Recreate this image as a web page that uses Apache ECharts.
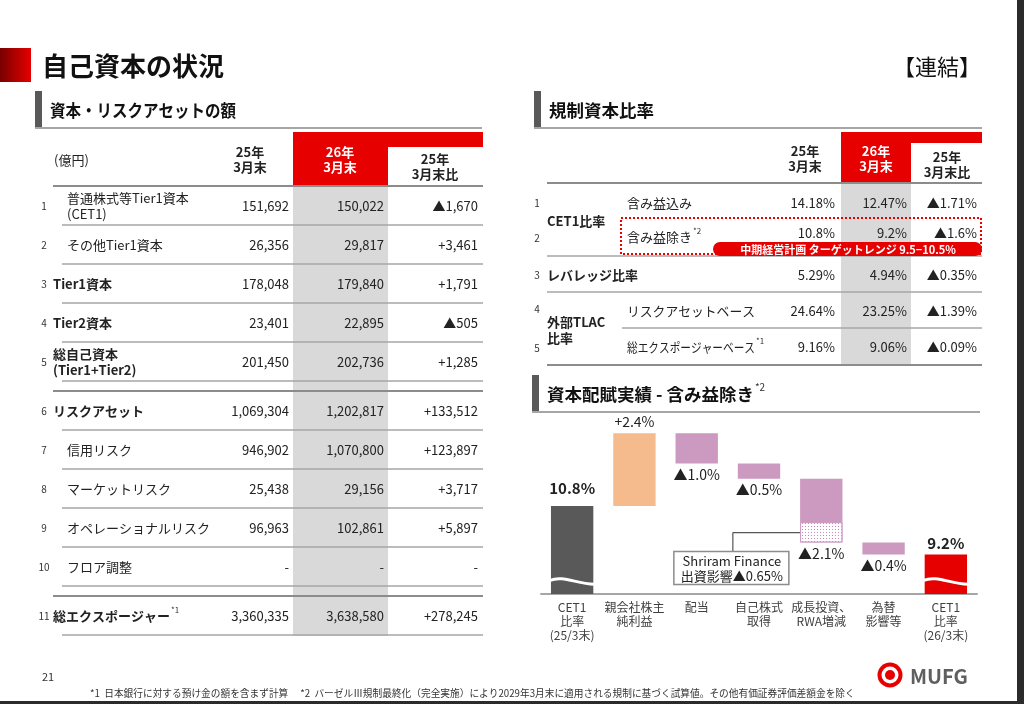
<!DOCTYPE html>
<html>
<head>
<meta charset="utf-8">
<script src="https://cdn.jsdelivr.net/npm/echarts@6/dist/echarts.min.js"></script>
<style>
  html, body { margin: 0; padding: 0; background: #fff; }
  #main { width: 1024px; height: 704px; }
</style>
</head>
<body>
<div id="main"></div>
<script>
// 自己資本の状況（連結）

// ---- data: 資本・リスクアセットの額（億円） ----
var capNo = ['1', '2', '3', '4', '5', '6', '7', '8', '9', '10', '11'];
var capLabel = ['普通株式等Tier1資本\n(CET1)', 'その他Tier1資本', 'Tier1資本', 'Tier2資本',
  '総自己資本\n(Tier1+Tier2)', 'リスクアセット', '信用リスク', 'マーケットリスク',
  'オペレーショナルリスク', 'フロア調整', '総エクスポージャー'];
var capNote = ['', '', '', '', '', '', '', '', '', '', '*1'];
var capLevel = [1, 1, 0, 0, 0, 0, 1, 1, 1, 1, 0];   // 0 = 合計行, 1 = 内訳
var capMar25 = ['151,692', '26,356', '178,048', '23,401', '201,450', '1,069,304',
  '946,902', '25,438', '96,963', '-', '3,360,335'];
var capMar26 = ['150,022', '29,817', '179,840', '22,895', '202,736', '1,202,817',
  '1,070,800', '29,156', '102,861', '-', '3,638,580'];
var capDiff = ['▲1,670', '+3,461', '+1,791', '▲505', '+1,285', '+133,512',
  '+123,897', '+3,717', '+5,897', '-', '+278,245'];

// ---- data: 規制資本比率 ----
var ratioNo = ['1', '2', '3', '4', '5'];
var ratioItem = ['含み益込み', '含み益除き', '', 'リスクアセットベース', '総エクスポージャーベース'];
var ratioNote = ['', '*2', '', '', '*1'];
var ratioMar25 = ['14.18%', '10.8%', '5.29%', '24.64%', '9.16%'];
var ratioMar26 = ['12.47%', '9.2%', '4.94%', '23.25%', '9.06%'];
var ratioDiff = ['▲1.71%', '▲1.6%', '▲0.35%', '▲1.39%', '▲0.09%'];
var targetRange = '中期経営計画 ターゲットレンジ 9.5−10.5%';

// ---- data: 資本配賦実績（含み益除き, %） ----
var wfCategories = ['CET1\n比率\n(25/3末)', '親会社株主\n純利益', '配当', '自己株式\n取得',
  '成長投資、\nRWA増減', '為替\n影響等', 'CET1\n比率\n(26/3末)'];
var wfValues = [10.8, 2.4, -1.0, -0.5, -2.1, -0.4, 9.2];
var wfKinds = ['start', 'up', 'down', 'down', 'down', 'down', 'end'];
var wfLabels = ['10.8%', '+2.4%', '▲1.0%', '▲0.5%', '▲2.1%', '▲0.4%', '9.2%'];
var shriramIndex = 4;
var shriramImpact = 0.65;
var shriramText = ['Shriram Finance', '出資影響▲0.65%'];
var axisMin = 7.9, axisMax = 13.7, breakAt = 8.35;

// ---- style ----
var FONT = '"Noto Sans CJK JP", "Noto Sans", sans-serif';
var RED = '#E60000';
var INK = '#222';
var GREY_COL = '#D9D9D9';
var RULE = '#A6A6A6';
var WF_COLORS = { start: '#595959', up: '#F5BB8C', down: '#CC99C0', end: RED };

var mctx = document.createElement('canvas').getContext('2d');
function textWidth(s, size, bold) {
  mctx.font = (bold ? 'bold ' : '') + size + 'px ' + FONT;
  return mctx.measureText(s).width;
}

// o.fit: squeeze the text horizontally if wider than this (the slide font has narrow kana)
function txt(x, y, s, o) {
  o = o || {};
  var size = o.size || 13;
  var st = {
    text: s, fill: o.color || INK, fontSize: size,
    fontWeight: o.bold ? 'bold' : 'normal', fontFamily: FONT,
    align: o.align || 'left', verticalAlign: o.va || 'middle'
  };
  if (o.lh) st.lineHeight = o.lh;
  var el = { type: 'text', x: x, y: y, silent: true, style: st };
  if (o.fit) {
    var w = textWidth(s, size, o.bold);
    if (w > o.fit) el.scaleX = o.fit / w;
  }
  return el;
}
function shownWidth(s, size, bold, fit) {
  var w = textWidth(s, size, bold);
  return fit && w > fit ? fit : w;
}
function box(x, y, w, h, fill, extra) {
  var e = { type: 'rect', silent: true, shape: { x: x, y: y, width: w, height: h }, style: { fill: fill } };
  if (extra) { for (var k in extra) e.style[k] = extra[k]; if (extra.r) { e.shape.r = extra.r; delete e.style.r; } }
  return e;
}
function rule(x1, y1, x2, y2, color, width, dash) {
  var st = { stroke: color, lineWidth: width || 1.5 };
  if (dash) st.lineDash = dash;
  return { type: 'line', silent: true, shape: { x1: x1, y1: y1, x2: x2, y2: y2 }, style: st };
}
function sectionHead(x, y, right, label, fit, note) {
  var g = [box(x, y, 7, 37, '#595959'), rule(x, y + 37, right, y + 37, RULE, 2),
    txt(x + 15, y + 19, label, { size: 17.5, bold: true, color: '#111', fit: fit })];
  if (note) g.push(txt(x + 15 + shownWidth(label, 17.5, true, fit) + 1, y + 12, note, { size: 10, color: '#333' }));
  return g;
}
function twoLineHead(cx, y, l1, l2, color) {
  return [txt(cx, y, l1, { bold: true, align: 'center', color: color }),
          txt(cx, y + 15, l2, { bold: true, align: 'center', color: color })];
}

function buildStatic() {
  var g = [];
  // frame
  g.push(box(1017, 0, 7, 704, '#2B2B2B'));
  g.push(box(0, 701, 1024, 3, '#2B2B2B'));
  // title
  g.push(box(0, 48, 31, 34, { type: 'linear', x: 0, y: 0, x2: 1, y2: 0,
    colorStops: [{ offset: 0, color: '#7A0000' }, { offset: 1, color: RED }] }));
  g.push(txt(42, 66, '自己資本の状況', { size: 26, bold: true, color: '#111' }));
  g.push(txt(981, 67, '【連結】', { size: 22, align: 'right', color: '#111' }));

  // ---- left table ----
  g = g.concat(sectionHead(35, 91, 482, '資本・リスクアセットの額', 186));
  g.push(box(293, 132, 190, 15, RED));
  g.push(box(293, 132, 95, 54, RED));
  g.push(box(293, 186, 95, 450, GREY_COL));
  g.push(txt(54, 160, '(億円)'));
  g = g.concat(twoLineHead(250, 152, '25年', '3月末'));
  g = g.concat(twoLineHead(340, 152, '26年', '3月末', '#fff'));
  g = g.concat(twoLineHead(435, 159, '25年', '3月末比'));
  g.push(rule(53, 186, 483, 186, '#8C8C8C', 2));
  capNo.forEach(function (no, i) {
    var top = 186 + i * 39 + (i >= 5 ? 10 : 0) + (i >= 10 ? 10 : 0);
    var cy = top + 20;
    var bold = capLevel[i] === 0;
    var lx = bold ? 53 : 67;
    g.push(txt(44, cy, no, { size: 10, align: 'center', color: '#333' }));
    g.push(txt(lx, cy, capLabel[i], { bold: bold, lh: 16 }));
    if (capNote[i]) g.push(txt(lx + textWidth(capLabel[i], 13, bold) + 1, cy - 6, capNote[i], { size: 8, color: '#333' }));
    g.push(txt(289, cy, capMar25[i], { align: 'right' }));
    g.push(txt(384, cy, capMar26[i], { align: 'right' }));
    g.push(txt(478, cy, capDiff[i], { align: 'right' }));
    g.push(rule(62, top + 39, 483, top + 39, RULE, 1.5));
    if (i === 4 || i === 9) g.push(rule(53, top + 49, 483, top + 49, '#8C8C8C', 2));
  });

  // ---- right table ----
  g = g.concat(sectionHead(534, 91, 982, '規制資本比率'));
  g.push(box(841, 132, 141, 11, RED));
  g.push(box(841, 132, 70, 51, RED));
  g.push(box(841, 183, 70, 182, GREY_COL));
  g = g.concat(twoLineHead(805, 151, '25年', '3月末'));
  g = g.concat(twoLineHead(876, 151, '26年', '3月末', '#fff'));
  g = g.concat(twoLineHead(947, 157, '25年', '3月末比'));
  g.push(rule(547, 183, 982, 183, '#8C8C8C', 2));
  var rowY = [203, 233, 275, 311, 347];
  var noY = [203, 238, 275, 309, 348];
  ratioNo.forEach(function (no, i) {
    g.push(txt(537, noY[i], no, { size: 10, align: 'center', color: '#333' }));
    if (ratioItem[i]) {
      var ly = i === 1 ? 237 : rowY[i];
      g.push(txt(627, ly, ratioItem[i], { fit: 128 }));
      if (ratioNote[i]) g.push(txt(627 + shownWidth(ratioItem[i], 13, false, 128) + 1, ly - 6, ratioNote[i], { size: 8, color: '#333' }));
    }
    g.push(txt(835, rowY[i], ratioMar25[i], { align: 'right' }));
    g.push(txt(907, rowY[i], ratioMar26[i], { align: 'right' }));
    g.push(txt(977, rowY[i], ratioDiff[i], { align: 'right' }));
  });
  g.push(txt(547, 221, 'CET1比率', { bold: true }));
  g.push(txt(547, 275, 'レバレッジ比率', { bold: true }));
  g.push(txt(547, 330, '外部TLAC\n比率', { bold: true, lh: 16 }));
  g.push(rule(547, 256, 982, 256, RULE, 1.5));
  g.push(rule(547, 292, 982, 292, RULE, 1.5));
  g.push(rule(622, 328, 982, 328, RULE, 1.5));
  g.push(rule(547, 365, 982, 365, '#8C8C8C', 2));
  g.push(box(621, 218, 360, 36, 'none', { stroke: RED, lineWidth: 2, lineDash: [2, 2] }));
  g.push(box(713, 242, 269, 14, RED, { r: 7 }));
  g.push(txt(848, 249.5, targetRange, { size: 11, bold: true, align: 'center', color: '#fff' }));

  // ---- waterfall header ----
  g = g.concat(sectionHead(532, 375, 980, '資本配賦実績 - 含み益除き', 214, '*2'));

  // ---- footer ----
  g.push(txt(42, 677, '21', { size: 11, color: '#333' }));
  g.push(txt(90, 693, '*1  日本銀行に対する預け金の額を含まず計算　 *2  バーゼルⅢ規制最終化（完全実施）により2029年3月末に適用される規制に基づく試算値。その他有価証券評価差額金を除く',
    { size: 9.7, color: '#333' }));
  g.push({ type: 'circle', silent: true, shape: { cx: 890, cy: 675, r: 12.5 }, style: { fill: RED } });
  g.push({ type: 'circle', silent: true, shape: { cx: 890, cy: 675, r: 8.5 }, style: { fill: '#fff' } });
  g.push({ type: 'circle', silent: true, shape: { cx: 890, cy: 675, r: 5 }, style: { fill: RED } });
  g.push(txt(910, 676, 'MUFG', { size: 20, bold: true, color: '#5F5F5F' }));
  return g;
}

// waterfall ranges
var wfLow = [], wfHigh = [];
(function () {
  var run = 0;
  wfValues.forEach(function (v, i) {
    if (wfKinds[i] === 'start' || wfKinds[i] === 'end') {
      wfLow.push(0); wfHigh.push(v); run = v;
    } else {
      wfLow.push(Math.min(run, run + v)); wfHigh.push(Math.max(run, run + v)); run += v;
    }
  });
})();

var dotCanvas = document.createElement('canvas');
dotCanvas.width = 3; dotCanvas.height = 3;
(function () {
  var c = dotCanvas.getContext('2d');
  c.fillStyle = '#fff'; c.fillRect(0, 0, 3, 3);
  c.fillStyle = '#C98BB8'; c.fillRect(1, 1, 1, 1);
})();
var dotPattern = { image: dotCanvas, repeat: 'repeat' };

function renderBar(params, api) {
  var i = api.value(0);
  var lo = api.value(1), hi = api.value(2);
  var cs = params.coordSys;
  var bottom = cs.y + cs.height;
  var w = api.size([1, 0])[0] * 0.68;
  var top = api.coord([i, hi]);
  var xc = top[0], yTop = top[1];
  var yBot = Math.min(api.coord([i, lo])[1], bottom);
  var kind = wfKinds[i];
  var kids = [{ type: 'rect', shape: { x: xc - w / 2, y: yTop, width: w, height: yBot - yTop },
    style: { fill: WF_COLORS[kind] } }];
  if (i === shriramIndex) {
    var yS = api.coord([i, lo + shriramImpact])[1];
    kids.push({ type: 'rect', shape: { x: xc - w / 2 + 0.5, y: yS, width: w - 1, height: yBot - yS - 0.5 },
      style: { fill: dotPattern, stroke: WF_COLORS.down, lineWidth: 1 } });
  }
  var total = kind === 'start' || kind === 'end';
  if (total) {
    var yb = api.coord([i, breakAt])[1];
    var x0 = xc - w / 2 - 1, x1 = xc + w / 2 + 1;
    kids.push({ type: 'bezierCurve',
      shape: { x1: x0, y1: yb, cpx1: x0 + w * 0.3, cpy1: yb - 5, cpx2: x0 + w * 0.6, cpy2: yb + 3, x2: x1, y2: yb + 4 },
      style: { stroke: '#fff', lineWidth: 3, fill: null } });
  }
  var above = total || kind === 'up';
  var gap = kind === 'start' ? 18 : 11;
  kids.push({ type: 'text', x: xc, y: above ? yTop - gap : yBot + gap,
    style: { text: wfLabels[i], fill: '#222', fontFamily: FONT, fontSize: total ? 15 : 14,
      fontWeight: total ? 'bold' : 'normal', align: 'center', verticalAlign: 'middle' } });
  return { type: 'group', children: kids };
}

var chart = echarts.init(document.getElementById('main'), null, { renderer: 'canvas' });
chart.setOption({
  backgroundColor: '#fff',
  animation: false,
  grid: { left: 541, right: 47, top: 418, bottom: 110, containLabel: false, outerBoundsMode: 'none' },
  xAxis: {
    type: 'category', data: wfCategories,
    axisLine: { lineStyle: { color: '#A6A6A6', width: 2 } },
    axisTick: { show: false },
    axisLabel: { color: '#404040', fontSize: 12, lineHeight: 14, margin: 6, fontFamily: FONT, interval: 0 }
  },
  yAxis: { type: 'value', min: axisMin, max: axisMax, show: false, splitLine: { show: false } },
  series: [{
    type: 'custom',
    renderItem: renderBar,
    clip: false,
    data: wfValues.map(function (v, i) { return [i, wfLow[i], wfHigh[i]]; }),
    encode: { x: 0, y: [1, 2] }
  }]
});

// Shriram callout, anchored to the hatched part of the 成長投資 bar
var shMid = wfLow[shriramIndex] + shriramImpact / 2;
var pA = chart.convertToPixel({ gridIndex: 0 }, [shriramIndex, shMid]);
var pB = chart.convertToPixel({ gridIndex: 0 }, [shriramIndex + 1, shMid]);
var barW = (pB[0] - pA[0]) * 0.68;
var p2 = chart.convertToPixel({ gridIndex: 0 }, [2, shMid]);
var p3 = chart.convertToPixel({ gridIndex: 0 }, [3, shMid]);
var boxCx = (p2[0] + p3[0]) / 2 + 3;
var boxTop = pA[1] + 19;
var callout = [
  rule(boxCx + 2, pA[1], pA[0] - barW / 2, pA[1], '#555', 1.2),
  rule(boxCx + 2, pA[1], boxCx + 2, boxTop, '#555', 1.2),
  box(boxCx - 57, boxTop, 115, 33, '#fff', { stroke: '#8C8C8C', lineWidth: 1.5 }),
  txt(boxCx + 1, boxTop + 10, shriramText[0], { align: 'center' }),
  txt(boxCx + 1, boxTop + 25, shriramText[1], { align: 'center' })
];

chart.setOption({ graphic: { elements: buildStatic().concat(callout) } });
</script>
</body>
</html>
